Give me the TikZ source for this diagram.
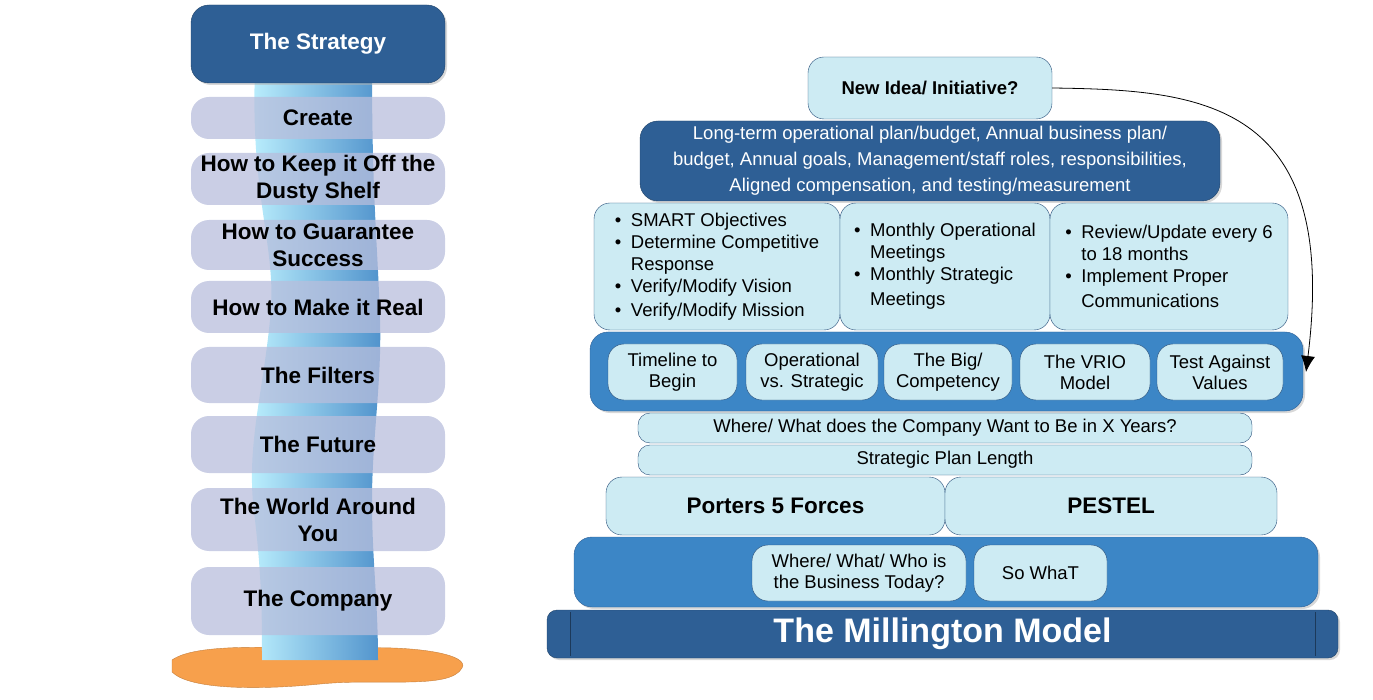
\documentclass[tikz,border=0pt]{standalone}
\usepackage{fontspec}
\setmainfont{Liberation Sans}
\usetikzlibrary{arrows.meta,shadows}
\definecolor{dkb}{HTML}{2E5F95}
\definecolor{midb}{HTML}{3C86C6}
\definecolor{lcy}{HTML}{CDEBF3}
\definecolor{lav}{HTML}{B8BEDC}
\definecolor{org}{HTML}{F7A04C}
\newcommand\bx[7]{\node[minimum width={#4pt-#2pt},minimum height={#5pt-#3pt},inner sep=1pt,#6] (#1) at ({(#2+#4)/2},{(#3+#5)/2}) {#7};}
\newcommand\bl{\makebox[16pt][l]{\textbullet}}
\tikzset{
 dark/.style={draw=dkb!70!black,fill=dkb,rounded corners=18pt,text=white,drop shadow={shadow xshift=2pt,shadow yshift=-2pt,fill=gray!60}},
 mid/.style={draw=dkb,fill=midb,rounded corners=18pt,drop shadow={shadow xshift=2pt,shadow yshift=-2pt,fill=gray!60}},
 lt/.style={draw=dkb!80!black,fill=lcy,rounded corners=16pt,align=center,font=\fontsize{18.5}{21}\selectfont},
 lft/.style={fill=lav,fill opacity=0.75,text opacity=1,rounded corners=18pt,align=center,font=\bfseries\fontsize{22.5}{27}\selectfont}
}
\begin{document}
\begin{tikzpicture}[x=1pt,y=-1pt]
\useasboundingbox (0,0) rectangle (1373,700);
\fill[org,draw=org!80!black] (172,660) .. controls (200,640) and (300,650) .. (360,648) .. controls (420,646) and (470,655) .. (462,668) .. controls (450,690) and (380,678) .. (320,684) .. controls (260,690) and (190,690) .. (172,672) -- cycle;
\shade[left color=blue!20!cyan!25,right color=midb!90] (255,70) .. controls (250,200) and (278,250) .. (270,320) .. controls (262,400) and (245,450) .. (255,520) .. controls (262,580) and (262,620) .. (262,660) -- (378,660) .. controls (378,600) and (372,560) .. (372,500) .. controls (372,440) and (382,380) .. (380,320) .. controls (378,250) and (372,200) .. (372,70) -- cycle;
\bx{strat}{191}{5}{445}{83}{dark,font=\bfseries\fontsize{22.5}{24}\selectfont}{The Strategy}
\bx{l1}{191}{97}{445}{139}{lft}{Create}
\bx{l2}{191}{153}{445}{205}{lft}{How to Keep it Off the\\Dusty Shelf}
\bx{l3}{191}{220}{445}{270}{lft}{How to Guarantee\\Success}
\bx{l4}{191}{281}{445}{333}{lft}{How to Make it Real}
\bx{l5}{191}{347}{445}{403}{lft}{The Filters}
\bx{l6}{191}{416}{445}{473}{lft}{The Future}
\bx{l7}{191}{488}{445}{551}{lft}{The World Around\\You}
\bx{l8}{191}{567}{445}{635}{lft}{The Company}
\bx{base}{547}{610}{1338}{658}{dark,rounded corners=10pt,font=\bfseries\fontsize{34}{36}\selectfont}{The Millington Model}
\draw[dkb!60!black] (570,612) -- (570,656) (1315,612) -- (1315,656);
\bx{today}{574}{537}{1318}{607}{mid}{}
\bx{who}{752}{545}{966}{601}{lt}{Where/ What/ Who is\\the Business Today?}
\bx{sowhat}{974}{545}{1107}{601}{lt}{So WhaT}
\bx{porter}{606}{477}{945}{535}{lt,font=\bfseries\fontsize{22.5}{24}\selectfont}{Porters 5 Forces}
\bx{pestel}{945}{477}{1277}{535}{lt,font=\bfseries\fontsize{22.5}{24}\selectfont}{PESTEL}
\bx{length}{638}{445}{1252}{475}{lt,rounded corners=12pt}{Strategic Plan Length}
\bx{where}{638}{413}{1252}{443}{lt,rounded corners=12pt}{Where/ What does the Company Want to Be in X Years?}
\bx{filt}{590}{332}{1303}{411}{mid}{}
\bx{f1}{608}{344}{737}{400}{lt}{Timeline to\\Begin}
\bx{f2}{746}{344}{878}{400}{lt}{Operational\\vs. Strategic}
\bx{f3}{884}{344}{1012}{400}{lt}{The Big/\\Competency}
\bx{f4}{1020}{344}{1150}{400}{lt}{The VRIO\\Model}
\bx{f5}{1157}{344}{1283}{400}{lt}{Test Against\\Values}
\bx{c1}{594}{203}{840}{330}{lt,align=left,font=\fontsize{18.5}{22}\selectfont}{\bl SMART Objectives\\\bl Determine Competitive\\\hspace*{16pt}Response\\\bl Verify/Modify Vision\\[2pt]\bl Verify/Modify Mission}
\bx{c2}{840}{203}{1050}{330}{lt,align=left,font=\fontsize{18.5}{22}\selectfont}{\bl Monthly Operational\\\hspace*{16pt}Meetings\\\bl Monthly Strategic\\[3pt]\hspace*{16pt}Meetings}
\bx{c3}{1050}{203}{1288}{330}{lt,align=left,font=\fontsize{18.5}{22}\selectfont}{\bl Review/Update every 6\\\hspace*{16pt}to 18 months\\\bl Implement Proper\\[3pt]\hspace*{16pt}Communications}
\bx{plan}{640}{121}{1220}{201}{dark,align=center,font=\fontsize{18.5}{26}\selectfont}{Long-term operational plan/budget, Annual business plan/\\budget, Annual goals, Management/staff roles, responsibilities,\\Aligned compensation, and testing/measurement}
\bx{idea}{808}{57}{1052}{119}{lt,font=\bfseries\fontsize{18.5}{20}\selectfont}{New Idea/ Initiative?}
\draw[thick,-{Latex[length=16pt,width=14pt]}] (idea.east) .. controls (1200,90) and (1340,100) .. (1306,372);
\end{tikzpicture}
\end{document}
